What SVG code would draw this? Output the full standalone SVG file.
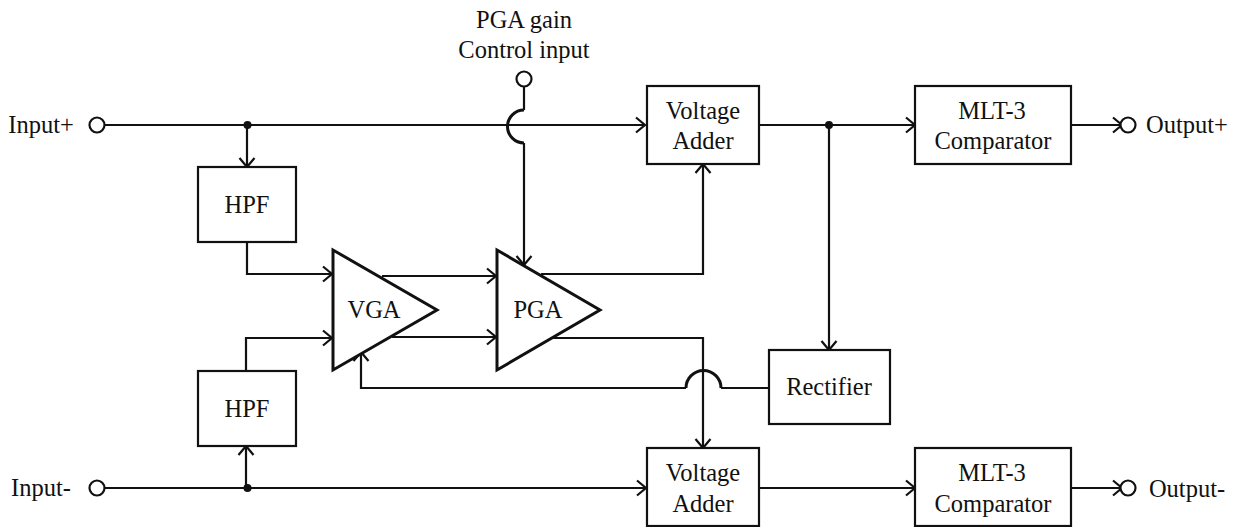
<svg xmlns="http://www.w3.org/2000/svg" width="1235" height="527" viewBox="0 0 1235 527">
<style>
text{font-family:"Liberation Serif","Times New Roman",serif;font-size:24.500px;fill:#111;text-anchor:middle}
.b{fill:#fff;stroke:#111;stroke-width:2.200}
.t{fill:#fff;stroke:#111;stroke-width:3}
.c{fill:#fff;stroke:#111;stroke-width:2.200}
.l{fill:none;stroke:#111;stroke-width:2.200}
.j{fill:none;stroke:#111;stroke-width:3}
.a{marker-end:url(#ah)}
</style>
<defs>
<marker id="ah" markerUnits="userSpaceOnUse" markerWidth="14" markerHeight="20" refX="11" refY="10" orient="auto">
<path d="M2 2.500L11 10L2 17.500" fill="none" stroke="#111" stroke-width="2.200"/>
</marker>
</defs>
<rect width="1235" height="527" fill="#fff"/>
<g id="connectors">
<path class="l a" d="M105 125H645"/>
<path class="l" d="M524 87V110"/>
<path class="j" d="M524 110A16.500 16.500 0 0 0 524 143"/>
<path class="l a" d="M524 143V265"/>
<path class="l a" d="M247 125V167"/>
<circle cx="247.500" cy="125" r="4" fill="#111"/>
<path class="l a" d="M247 242V274H332"/>
<path class="l a" d="M246 371V338H332"/>
<path class="l a" d="M382 276H496"/>
<path class="l a" d="M392 337H496"/>
<path class="l a" d="M541 274H703V164"/>
<path class="l a" d="M553 338H703V448"/>
<path class="l a" d="M759 125H915"/>
<circle cx="829" cy="125" r="4" fill="#111"/>
<path class="l a" d="M829 125V350"/>
<path class="l" d="M768 388H721"/>
<path class="j" d="M721 388A17 17 0 0 0 686 388"/>
<path class="l a" d="M686 388H361V352"/>
<path class="l a" d="M105 488H646"/>
<path class="l a" d="M246 488V446"/>
<circle cx="247.500" cy="488" r="4" fill="#111"/>
<path class="l a" d="M759 488H915"/>
<path class="l a" d="M1072 125H1122"/>
<path class="l a" d="M1072 488H1122"/>
</g>
<g id="input-plus"><text x="41" y="133">Input+</text><circle class="c" cx="97" cy="125" r="7.500"/></g>
<g id="input-minus"><text x="41" y="496">Input-</text><circle class="c" cx="97" cy="488" r="7.500"/></g>
<g id="pga-control"><text x="524" y="28">PGA gain</text><text x="524" y="58">Control input</text><circle class="c" cx="524" cy="79" r="7.500"/></g>
<g id="output-plus"><circle class="c" cx="1128" cy="125" r="7.500"/><text x="1187" y="133">Output+</text></g>
<g id="output-minus"><circle class="c" cx="1128" cy="488" r="7.500"/><text x="1187" y="497">Output-</text></g>
<g id="hpf-top"><rect class="b" x="198" y="167" width="98" height="75"/><text x="247" y="213">HPF</text></g>
<g id="hpf-bottom"><rect class="b" x="198" y="371" width="98" height="75"/><text x="247" y="417">HPF</text></g>
<g id="vga"><path class="t" d="M333 250V370L437 310Z"/><text x="374" y="318">VGA</text></g>
<g id="pga"><path class="t" d="M497 250V370L600 310Z"/><text x="538" y="318">PGA</text></g>
<g id="adder-top"><rect class="b" x="647" y="86" width="112" height="78"/><text x="703" y="119">Voltage</text><text x="703" y="149">Adder</text></g>
<g id="adder-bottom"><rect class="b" x="647" y="448" width="112" height="78"/><text x="703" y="481">Voltage</text><text x="703" y="512">Adder</text></g>
<g id="comparator-top"><rect class="b" x="915" y="86" width="156" height="78"/><text x="992" y="119">MLT-3</text><text x="993" y="149">Comparator</text></g>
<g id="comparator-bottom"><rect class="b" x="915" y="448" width="156" height="78"/><text x="992" y="481">MLT-3</text><text x="993" y="512">Comparator</text></g>
<g id="rectifier"><rect class="b" x="769" y="350" width="121" height="74"/><text x="829" y="395">Rectifier</text></g>
</svg>
